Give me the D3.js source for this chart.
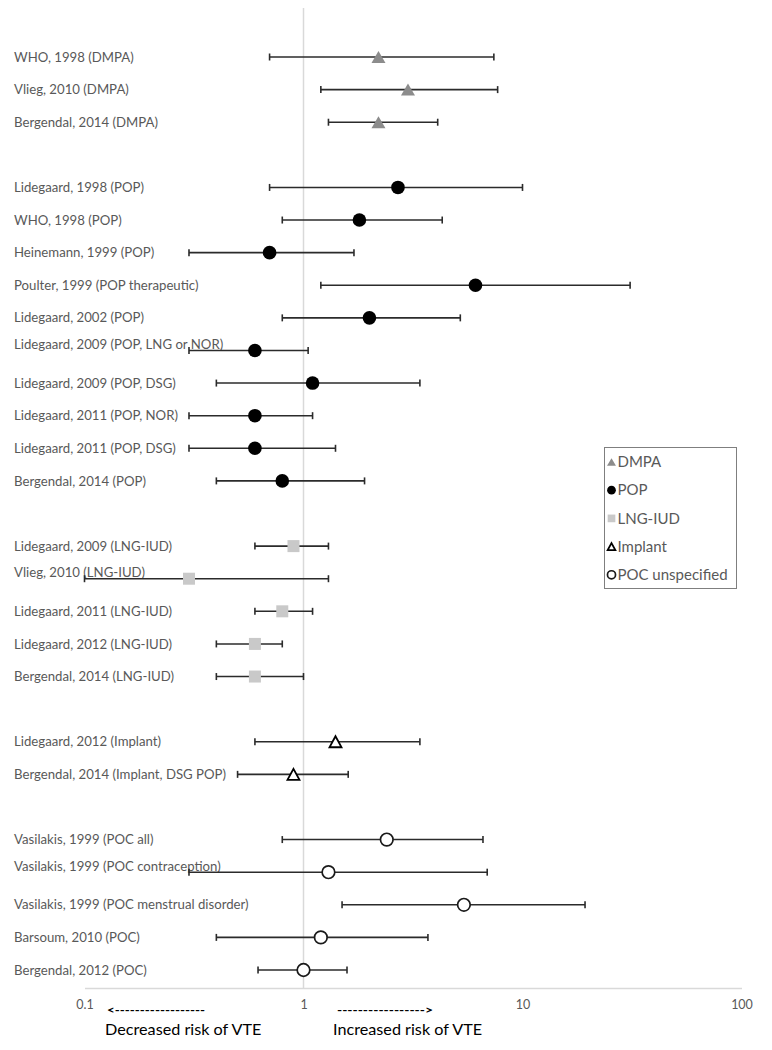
<!DOCTYPE html>
<html>
<head>
<meta charset="utf-8">
<script src="https://cdn.jsdelivr.net/npm/d3@7"></script>
<style>
  html, body { margin: 0; padding: 0; background: #fff; }
  svg { display: block; }
  text { font-family: Lato, "Open Sans", sans-serif; }
</style>
</head>
<body>
<div id="chart"></div>
<script>
// ---------------- DATA ----------------
const studies = [
  "WHO, 1998 (DMPA)", "Vlieg, 2010 (DMPA)", "Bergendal, 2014 (DMPA)",
  "Lidegaard, 1998 (POP)", "WHO, 1998 (POP)", "Heinemann, 1999 (POP)",
  "Poulter, 1999 (POP therapeutic)", "Lidegaard, 2002 (POP)",
  "Lidegaard, 2009 (POP, LNG or NOR)", "Lidegaard, 2009 (POP, DSG)",
  "Lidegaard, 2011 (POP, NOR)", "Lidegaard, 2011 (POP, DSG)", "Bergendal, 2014 (POP)",
  "Lidegaard, 2009 (LNG-IUD)", "Vlieg, 2010 (LNG-IUD)", "Lidegaard, 2011 (LNG-IUD)",
  "Lidegaard, 2012 (LNG-IUD)", "Bergendal, 2014 (LNG-IUD)",
  "Lidegaard, 2012 (Implant)", "Bergendal, 2014 (Implant, DSG POP)",
  "Vasilakis, 1999 (POC all)", "Vasilakis, 1999 (POC contraception)",
  "Vasilakis, 1999 (POC menstrual disorder)", "Barsoum, 2010 (POC)", "Bergendal, 2012 (POC)"
];
const groups = [
  "DMPA", "DMPA", "DMPA",
  "POP", "POP", "POP", "POP", "POP", "POP", "POP", "POP", "POP", "POP",
  "LNG-IUD", "LNG-IUD", "LNG-IUD", "LNG-IUD", "LNG-IUD",
  "Implant", "Implant",
  "POC unspecified", "POC unspecified", "POC unspecified", "POC unspecified", "POC unspecified"
];
const estimate = [2.2, 3.0, 2.2, 2.7, 1.8, 0.7, 6.1, 2.0, 0.6, 1.1, 0.6, 0.6, 0.8,
                  0.9, 0.3, 0.8, 0.6, 0.6, 1.4, 0.9, 2.4, 1.3, 5.4, 1.2, 1.0];
const lower    = [0.7, 1.2, 1.3, 0.7, 0.8, 0.3, 1.2, 0.8, 0.3, 0.4, 0.3, 0.3, 0.4,
                  0.6, 0.1, 0.6, 0.4, 0.4, 0.6, 0.5, 0.8, 0.3, 1.5, 0.4, 0.62];
const upper    = [7.4, 7.7, 4.1, 10.0, 4.3, 1.7, 31.0, 5.2, 1.05, 3.4, 1.1, 1.4, 1.9,
                  1.3, 1.3, 1.1, 0.8, 1.0, 3.4, 1.6, 6.6, 6.9, 19.3, 3.7, 1.58];
const legendLabels = ["DMPA", "POP", "LNG-IUD", "Implant", "POC unspecified"];
const tickValues = [0.1, 1, 10, 100];
const tickLabels = ["0.1", "1", "10", "100"];
const raisedLabels = ["Lidegaard, 2009 (POP, LNG or NOR)", "Vlieg, 2010 (LNG-IUD)", "Vasilakis, 1999 (POC contraception)"];
const directionLabels = ["Decreased risk of VTE", "Increased risk of VTE"];

// ---------------- LAYOUT ----------------
const W = 772, H = 1050;
const svg = d3.select("#chart").append("svg").attr("width", W).attr("height", H);

const x = d3.scaleLog().domain([0.1, 100]).range([84.5, 741.5]);

// row index: one blank row between groups
const groupOrder = legendLabels;
const rowIndex = groups.map((g, i) => i + groupOrder.indexOf(g));
const y = d3.scaleLinear().domain([0, 28]).range([57, 970]);

const plotTop = 8, axisY = 988;

// reference line at 1
svg.append("line")
  .attr("x1", x(1)).attr("x2", x(1)).attr("y1", plotTop).attr("y2", axisY)
  .attr("stroke", "#d9d9d9").attr("stroke-width", 1.5);

// x axis
const axis = d3.axisBottom(x).tickValues(tickValues)
  .tickFormat((d, i) => tickLabels[i]).tickSize(0).tickPadding(12);
const axG = svg.append("g").attr("transform", `translate(0,${axisY})`).call(axis);
axG.select(".domain").attr("stroke", "#d9d9d9").attr("stroke-width", 1.5);
axG.selectAll(".tick text").attr("fill", "#595959")
  .style("font-family", "Lato, sans-serif").style("font-size", "12.5px");

// study labels
svg.append("g").selectAll("text").data(studies).join("text")
  .attr("x", 14)
  .attr("y", (d, i) => y(rowIndex[i]) + (raisedLabels.includes(d) ? -6 : 0))
  .attr("dy", "0.35em")
  .attr("fill", "#595959")
  .style("font-size", "13.2px")
  .text(d => d);

// error bars
const cap = 3.5;
const eb = svg.append("g").attr("stroke", "#2b2b2b").attr("stroke-width", 1.6);
studies.forEach((s, i) => {
  const yy = y(rowIndex[i]);
  eb.append("line").attr("x1", x(lower[i])).attr("x2", x(upper[i])).attr("y1", yy).attr("y2", yy);
  eb.append("line").attr("x1", x(lower[i])).attr("x2", x(lower[i])).attr("y1", yy - cap).attr("y2", yy + cap);
  eb.append("line").attr("x1", x(upper[i])).attr("x2", x(upper[i])).attr("y1", yy - cap).attr("y2", yy + cap);
});

// marker drawing
function triPath(w, h) {
  return `M0,${-h / 2}L${w / 2},${h / 2}L${-w / 2},${h / 2}Z`;
}
function drawMarker(g, type, cx, cy, scale) {
  const s = scale || 1;
  if (type === "DMPA") {
    g.append("path").attr("d", triPath(14 * s, 12 * s))
      .attr("transform", `translate(${cx},${cy})`).attr("fill", "#8c8c8c");
  } else if (type === "POP") {
    g.append("circle").attr("cx", cx).attr("cy", cy).attr("r", 6.8 * s).attr("fill", "#000");
  } else if (type === "LNG-IUD") {
    const a = 12 * s;
    g.append("rect").attr("x", cx - a / 2).attr("y", cy - a / 2).attr("width", a).attr("height", a)
      .attr("fill", "#c9c9c9");
  } else if (type === "Implant") {
    g.append("path").attr("d", triPath(12 * s, 11 * s))
      .attr("transform", `translate(${cx},${cy})`).attr("fill", "#fff")
      .attr("stroke", "#000").attr("stroke-width", 1.8);
  } else {
    g.append("circle").attr("cx", cx).attr("cy", cy).attr("r", 6.3 * s).attr("fill", "#fff")
      .attr("stroke", "#1a1a1a").attr("stroke-width", 1.7);
  }
}
const mk = svg.append("g");
studies.forEach((s, i) => drawMarker(mk, groups[i], x(estimate[i]), y(rowIndex[i]), 1));

// legend
const lg = svg.append("g");
lg.append("rect").attr("x", 604.5).attr("y", 447.5).attr("width", 132).attr("height", 141)
  .attr("fill", "#fff").attr("stroke", "#7f7f7f").attr("stroke-width", 1);
legendLabels.forEach((l, i) => {
  const ly = 462 + i * 28.2;
  drawMarker(lg, l, 611.5, ly, 0.64);
  lg.append("text").attr("x", 617.5).attr("y", ly).attr("dy", "0.35em")
    .attr("fill", "#595959").style("font-size", "15px").text(l);
});

// direction arrows and labels
svg.append("text").attr("x", 107).attr("y", 1010).attr("dy", "0.35em")
  .attr("fill", "#000").style("font-size", "12px").style("font-weight", "bold")
  .attr("textLength", 98).attr("lengthAdjust", "spacingAndGlyphs")
  .text("<------------------");
svg.append("text").attr("x", 337).attr("y", 1010).attr("dy", "0.35em")
  .attr("fill", "#000").style("font-size", "12px").style("font-weight", "bold")
  .attr("textLength", 96).attr("lengthAdjust", "spacingAndGlyphs")
  .text("----------------->");
svg.append("text").attr("x", 105).attr("y", 1029).attr("dy", "0.35em")
  .attr("fill", "#000").style("font-size", "16.2px").text(directionLabels[0]);
svg.append("text").attr("x", 333).attr("y", 1029).attr("dy", "0.35em")
  .attr("fill", "#000").style("font-size", "16.2px").text(directionLabels[1]);
</script>
</body>
</html>
